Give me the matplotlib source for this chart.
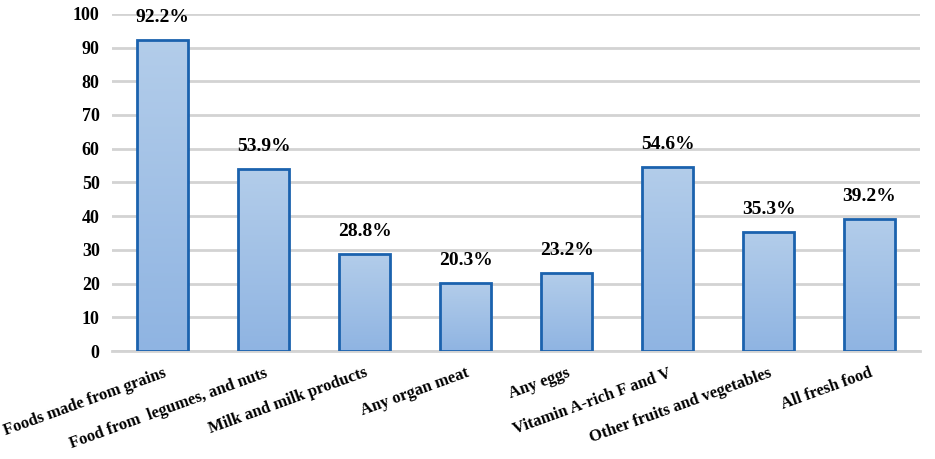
import numpy as np
import matplotlib
matplotlib.use("Agg")
import matplotlib.pyplot as plt
from matplotlib.colors import LinearSegmentedColormap

categories = [
    "Foods made from grains",
    "Food from  legumes, and nuts",
    "Milk and milk products",
    "Any organ meat",
    "Any eggs",
    "Vitamin A-rich F and V",
    "Other fruits and vegetables",
    "All fresh food",
]
values = [92.2, 53.9, 28.8, 20.3, 23.2, 54.6, 35.3, 39.2]
y_ticks = [0, 10, 20, 30, 40, 50, 60, 70, 80, 90, 100]

plt.rcParams["font.family"] = ["Liberation Serif", "DejaVu Serif"]
plt.rcParams["font.weight"] = "bold"

fig = plt.figure(figsize=(9.35, 4.59), dpi=100)
ax = fig.add_axes([0.12, 0.235, 0.864, 0.735])

x = np.arange(len(categories))
bars = ax.bar(x, values, width=0.51, color="none", edgecolor="#1b62ae",
              linewidth=2.0, zorder=3)

# vertical gradient inside each bar
cmap = LinearSegmentedColormap.from_list("grad", ["#8fb4e2", "#b3cdea"])
grad = np.linspace(0, 1, 256).reshape(-1, 1)
for b in bars:
    x0, w, h = b.get_x(), b.get_width(), b.get_height()
    im = ax.imshow(grad, cmap=cmap, aspect="auto", origin="lower",
                   extent=(x0, x0 + w, 0, h), zorder=2)
    im.set_clip_path(b)

for xi, v in zip(x, values):
    ax.annotate(f"{v}%", (xi, v), xytext=(0, 10), textcoords="offset points",
                ha="center", va="bottom", fontsize=14, fontweight="bold")

ax.set_xlim(-0.5, len(categories) - 0.5)
ax.set_ylim(0, 100)
ax.set_yticks(y_ticks)
ax.yaxis.grid(True, color="#d3d3d3", linewidth=2.0, zorder=0)
ax.set_axisbelow(True)
for s in ["top", "right", "left"]:
    ax.spines[s].set_visible(False)
ax.spines["bottom"].set_color("#d3d3d3")
ax.spines["bottom"].set_linewidth(2.0)
ax.spines["bottom"].set_zorder(1)

ax.tick_params(axis="y", length=0, pad=9, labelsize=13)
ax.tick_params(axis="x", length=0, pad=10, labelsize=12)
ax.set_xticks(x)
ax.set_xticklabels(categories, rotation=20, ha="right", rotation_mode="anchor")
for lbl in ax.get_xticklabels() + ax.get_yticklabels():
    lbl.set_fontweight("bold")

fig.savefig("out.png", dpi=100, facecolor="white")
